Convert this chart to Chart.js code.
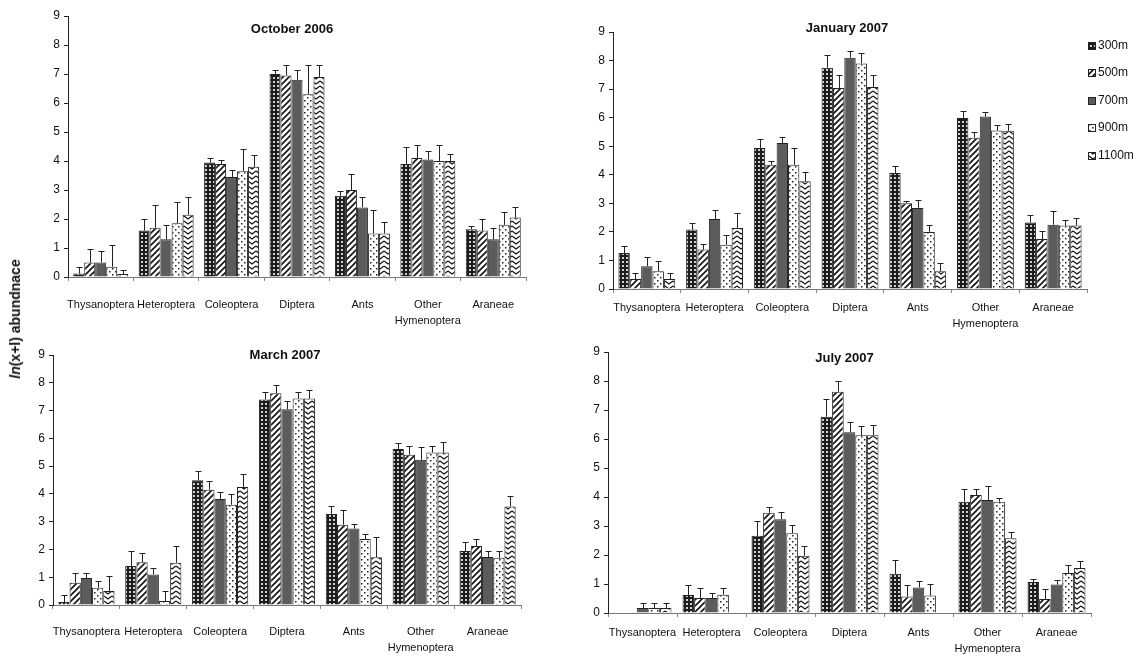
<!DOCTYPE html>
<html>
<head>
<meta charset="utf-8">
<script src="https://cdn.jsdelivr.net/npm/chart.js@4.4.1/dist/chart.umd.min.js"></script>
<style>
  body { margin: 0; background: #fff; width: 1138px; height: 656px; overflow: hidden; position: relative;
         font-family: "Liberation Sans", Arial, sans-serif; }
  canvas { position: absolute; }
  #ylab { position: absolute; left: 15px; top: 319px; transform: translate(-50%, -50%) rotate(-90deg);
          font-size: 14px; font-weight: bold; color: #111; white-space: nowrap; z-index: 2; }
</style>
</head>
<body>
<div id="ylab"><i>ln</i>(x+l) abundnace</div>
<canvas id="c0"></canvas>
<canvas id="c1"></canvas>
<canvas id="c2"></canvas>
<canvas id="c3"></canvas>
<script>
// ---- data -------------------------------------------------------------
const categories = ['Thysanoptera', 'Heteroptera', 'Coleoptera', 'Diptera', 'Ants', ['Other', 'Hymenoptera'], 'Araneae'];
const altitudes = ['300m', '500m', '700m', '900m', '1100m'];
const panelTitles = ['October 2006', 'January 2007', 'March 2007', 'July 2007'];
const yTickValues = [0, 1, 2, 3, 4, 5, 6, 7, 8, 9];

// mean ln(x+1) abundance, one row per altitude (300m .. 1100m)
const oct2006Means = [
  [0.12, 1.6, 3.95, 7.0, 2.8, 3.9, 1.65],
  [0.5, 1.7, 3.9, 6.95, 3.0, 4.1, 1.6],
  [0.5, 1.3, 3.45, 6.8, 2.4, 4.05, 1.3],
  [0.35, 1.85, 3.65, 6.3, 1.5, 4.0, 1.8],
  [0.1, 2.15, 3.8, 6.9, 1.5, 4.0, 2.05]
];
// upper standard error, same layout
const oct2006Errors = [
  [0.23, 0.4, 0.15, 0.15, 0.15, 0.6, 0.1],
  [0.45, 0.8, 0.15, 0.35, 0.55, 0.45, 0.4],
  [0.4, 0.5, 0.25, 0.35, 0.35, 0.3, 0.4],
  [0.75, 0.75, 0.75, 1.0, 0.8, 0.55, 0.45],
  [0.15, 0.6, 0.4, 0.4, 0.4, 0.25, 0.35]
];

const jan2007Means = [
  [1.26, 2.08, 4.94, 7.75, 4.06, 5.99, 2.33],
  [0.35, 1.38, 4.35, 7.04, 3.0, 5.3, 1.75],
  [0.8, 2.45, 5.11, 8.1, 2.84, 6.04, 2.25],
  [0.62, 1.55, 4.35, 7.9, 2.0, 5.55, 2.22],
  [0.35, 2.14, 3.77, 7.07, 0.62, 5.54, 2.22]
];
const jan2007Errors = [
  [0.24, 0.22, 0.32, 0.45, 0.26, 0.26, 0.27],
  [0.21, 0.21, 0.15, 0.45, 0.08, 0.2, 0.27],
  [0.32, 0.3, 0.23, 0.23, 0.28, 0.16, 0.47],
  [0.35, 0.35, 0.58, 0.35, 0.25, 0.21, 0.21],
  [0.21, 0.52, 0.33, 0.43, 0.28, 0.25, 0.27]
];

const mar2007Means = [
  [0.11, 1.4, 4.49, 7.4, 3.28, 5.62, 1.94],
  [0.8, 1.54, 4.15, 7.62, 2.89, 5.41, 2.12],
  [0.97, 1.1, 3.82, 7.05, 2.75, 5.23, 1.73],
  [0.62, 0.14, 3.61, 7.43, 2.38, 5.49, 1.7],
  [0.5, 1.52, 4.25, 7.43, 1.72, 5.49, 3.55]
];
const mar2007Errors = [
  [0.25, 0.54, 0.32, 0.25, 0.3, 0.23, 0.32],
  [0.35, 0.34, 0.3, 0.3, 0.52, 0.32, 0.26],
  [0.2, 0.24, 0.24, 0.3, 0.15, 0.45, 0.21],
  [0.25, 0.36, 0.4, 0.25, 0.18, 0.24, 0.24],
  [0.54, 0.6, 0.47, 0.31, 0.73, 0.37, 0.38]
];

const jul2007Means = [
  [0, 0.62, 2.66, 6.77, 1.35, 3.84, 1.07],
  [0, 0.52, 3.46, 7.63, 0.57, 4.07, 0.48],
  [0.17, 0.52, 3.23, 6.23, 0.88, 3.9, 0.98],
  [0.17, 0.63, 2.75, 6.13, 0.6, 3.84, 1.38],
  [0.17, 0, 1.97, 6.13, 0, 2.58, 1.55]
];
const jul2007Errors = [
  [0, 0.36, 0.52, 0.6, 0.48, 0.43, 0.1],
  [0, 0.34, 0.18, 0.36, 0.4, 0.2, 0.35],
  [0.17, 0.17, 0.27, 0.37, 0.21, 0.49, 0.17],
  [0.17, 0.23, 0.29, 0.32, 0.4, 0.12, 0.28],
  [0.17, 0, 0.35, 0.35, 0, 0.23, 0.23]
];

// ---- fill patterns, one per altitude -----------------------------------
function tile(w, h, paint) {
  const c = document.createElement('canvas');
  c.width = w; c.height = h;
  const g = c.getContext('2d');
  paint(g, w, h);
  return g.createPattern(c, 'repeat');
}
const fills = [
  // 300m: dark fine grid
  tile(4, 4, (g) => {
    g.fillStyle = '#1c1c1c'; g.fillRect(0, 0, 4, 4);
    g.fillStyle = '#d0d0d0'; g.fillRect(1, 1, 2, 2);
  }),
  // 500m: wide diagonal hatch
  tile(6, 6, (g) => {
    g.fillStyle = '#fff'; g.fillRect(0, 0, 6, 6);
    g.strokeStyle = '#111'; g.lineWidth = 1.6;
    g.beginPath();
    g.moveTo(-1, 7); g.lineTo(7, -1);
    g.moveTo(-1, 1); g.lineTo(1, -1);
    g.moveTo(5, 7); g.lineTo(7, 5);
    g.stroke();
  }),
  // 700m: solid grey
  '#5c5c5c',
  // 900m: sparse dots
  tile(6, 6, (g) => {
    g.fillStyle = '#fff'; g.fillRect(0, 0, 6, 6);
    g.fillStyle = '#222';
    g.fillRect(1, 1, 1.5, 1.5); g.fillRect(4, 4, 1.5, 1.5);
  }),
  // 1100m: stacked zigzag
  tile(8, 5, (g) => {
    g.fillStyle = '#fff'; g.fillRect(0, 0, 8, 5);
    g.strokeStyle = '#111'; g.lineWidth = 1.2;
    g.beginPath(); g.moveTo(0, 1); g.lineTo(4, 4); g.lineTo(8, 1); g.stroke();
  })
];

const font = '"Liberation Sans", Arial, sans-serif';

// ---- plugins -------------------------------------------------------------
const errorBars = {
  id: 'errorBars',
  afterDatasetsDraw(chart) {
    const { ctx } = chart;
    const yScale = chart.scales.y;
    ctx.save();
    ctx.strokeStyle = '#222';
    ctx.lineWidth = 1;
    chart.data.datasets.forEach((ds, i) => {
      const meta = chart.getDatasetMeta(i);
      meta.data.forEach((bar, j) => {
        const e = ds.errors[j];
        if (!e) return;
        const x = Math.round(bar.x) + 0.5;
        const y0 = yScale.getPixelForValue(ds.data[j]);
        const y1 = Math.round(yScale.getPixelForValue(ds.data[j] + e)) + 0.5;
        ctx.beginPath();
        ctx.moveTo(x, y0); ctx.lineTo(x, y1);
        ctx.moveTo(x - 3, y1); ctx.lineTo(x + 3, y1);
        ctx.stroke();
      });
    });
    ctx.restore();
  }
};

const panelTitle = {
  id: 'panelTitle',
  afterDraw(chart, args, opts) {
    const { ctx, chartArea } = chart;
    ctx.save();
    ctx.font = 'bold 13px ' + font;
    ctx.fillStyle = '#111';
    ctx.textAlign = 'center';
    ctx.textBaseline = 'middle';
    ctx.fillText(opts.text, (chartArea.left + chartArea.right) / 2 + opts.dx, chartArea.top + opts.dy);
    ctx.restore();
  }
};

// altitude key drawn beside the plot area, built from the datasets
const sideLegend = {
  id: 'sideLegend',
  afterDraw(chart, args, opts) {
    if (!opts.show) return;
    const { ctx, chartArea } = chart;
    ctx.save();
    ctx.font = '12px ' + font;
    ctx.textBaseline = 'middle';
    ctx.textAlign = 'left';
    chart.data.datasets.forEach((ds, i) => {
      const x = Math.round(chartArea.right + opts.dx);
      const y = Math.round(chartArea.top + opts.dy + i * opts.step);
      ctx.fillStyle = ds.backgroundColor;
      ctx.fillRect(x, y - 4, 8, 8);
      ctx.strokeStyle = '#222';
      ctx.lineWidth = 1;
      ctx.strokeRect(x + 0.5, y - 3.5, 7, 7);
      ctx.fillStyle = '#111';
      ctx.fillText(ds.label, x + 10, y);
    });
    ctx.restore();
  }
};

// ---- panels --------------------------------------------------------------
const panels = [
  { id: 'c0', title: panelTitles[0], means: oct2006Means, errors: oct2006Errors,
    box: { left: 0, top: 0, width: 560, height: 335 }, pad: { left: 18, top: 16, right: 34, bottom: 6 },
    yWidth: 50, xHeight: 52, labelPad: 16, titleDx: -5, titleDy: 13, legend: false },
  { id: 'c1', title: panelTitles[1], means: jan2007Means, errors: jan2007Errors,
    box: { left: 569, top: 0, width: 569, height: 345 }, pad: { left: 8, top: 32, right: 51, bottom: 4 },
    yWidth: 36, xHeight: 52, labelPad: 7, titleDx: -3, titleDy: -4, legend: true },
  { id: 'c2', title: panelTitles[2], means: mar2007Means, errors: mar2007Errors,
    box: { left: 0, top: 330, width: 560, height: 326 }, pad: { left: 13, top: 25, right: 39, bottom: 0 },
    yWidth: 40, xHeight: 51, labelPad: 15, titleDx: -2, titleDy: 0, legend: false },
  { id: 'c3', title: panelTitles[3], means: jul2007Means, errors: jul2007Errors,
    box: { left: 569, top: 330, width: 569, height: 326 }, pad: { left: 3, top: 22, right: 47, bottom: 0 },
    yWidth: 36, xHeight: 43, labelPad: 8, titleDx: -5, titleDy: 6, legend: false }
];

panels.forEach((p) => {
  const cv = document.getElementById(p.id);
  cv.width = p.box.width; cv.height = p.box.height;
  cv.style.left = p.box.left + 'px'; cv.style.top = p.box.top + 'px';
  cv.style.width = p.box.width + 'px'; cv.style.height = p.box.height + 'px';

  new Chart(cv, {
    type: 'bar',
    data: {
      labels: categories,
      datasets: altitudes.map((name, k) => ({
        label: name,
        data: p.means[k],
        errors: p.errors[k],
        backgroundColor: fills[k],
        borderColor: '#222',
        borderWidth: 1,
        categoryPercentage: 0.84,
        barPercentage: 1.0
      }))
    },
    options: {
      responsive: false,
      animation: false,
      devicePixelRatio: 1,
      layout: { padding: p.pad },
      scales: {
        x: {
          grid: { drawOnChartArea: false, drawTicks: true, tickLength: 4, color: '#888', offset: true },
          border: { color: '#777', width: 1 },
          ticks: { color: '#111', font: { family: font, size: 11, lineHeight: 1.45 },
                   maxRotation: 0, autoSkip: false, padding: p.labelPad },
          afterFit: (axis) => { axis.height = p.xHeight; }
        },
        y: {
          min: 0, max: 9,
          grid: { drawOnChartArea: false, drawTicks: true, tickLength: 4, color: '#222' },
          border: { color: '#222', width: 1 },
          ticks: { color: '#111', font: { family: font, size: 12 }, padding: 4 },
          afterBuildTicks: (axis) => { axis.ticks = yTickValues.map((v) => ({ value: v })); },
          afterFit: (axis) => { axis.width = p.yWidth; }
        }
      },
      plugins: {
        legend: { display: false },
        tooltip: { enabled: false },
        panelTitle: { text: p.title, dx: p.titleDx, dy: p.titleDy },
        sideLegend: { show: p.legend, dx: 1, dy: 14, step: 27.4 }
      }
    },
    plugins: [errorBars, panelTitle, sideLegend]
  });
});
</script>
</body>
</html>
